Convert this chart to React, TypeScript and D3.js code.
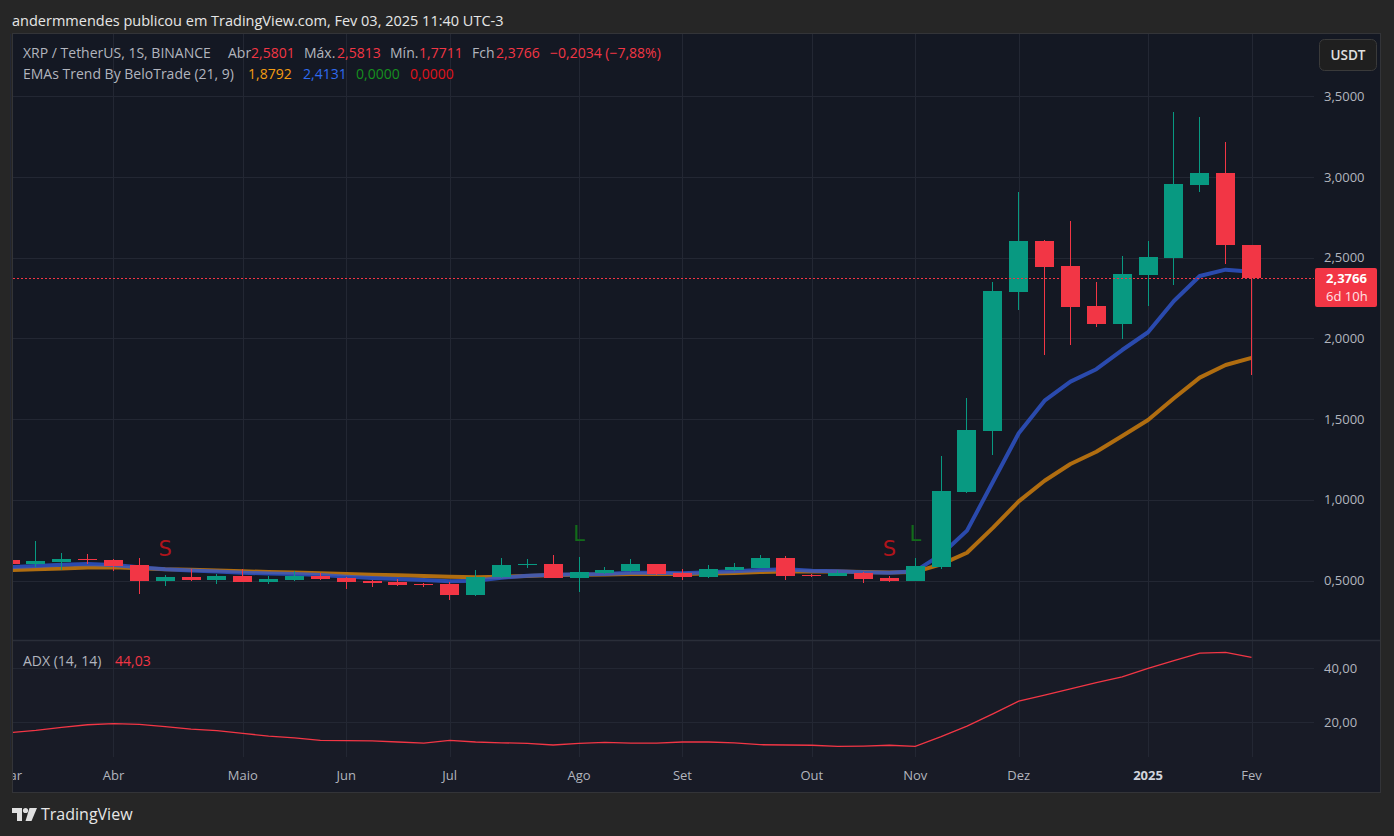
import { useEffect } from "react";
import * as d3 from "d3";

// weekly bars, XRP/USDT (BINANCE), Mar 4 2024 -> Feb 3 2025
const opens = [
  0.627, 0.602, 0.615, 0.633, 0.627, 0.596, 0.497, 0.522, 0.503, 0.528,
  0.491, 0.503, 0.528, 0.515, 0.497, 0.491, 0.478, 0.478, 0.41, 0.522,
  0.6, 0.602, 0.516, 0.547, 0.559, 0.602, 0.546, 0.522, 0.565, 0.577,
  0.64, 0.534, 0.528, 0.546, 0.515, 0.497, 0.584, 1.048, 1.428, 2.288,
  2.604, 2.449, 2.201, 2.089, 2.393, 2.498, 2.95, 3.025, 2.5801,
];
const highs = [
  0.64, 0.745, 0.67, 0.664, 0.633, 0.64, 0.534, 0.571, 0.54, 0.571,
  0.528, 0.559, 0.546, 0.522, 0.503, 0.509, 0.484, 0.49, 0.565, 0.64,
  0.633, 0.658, 0.646, 0.584, 0.633, 0.605, 0.571, 0.596, 0.608, 0.658,
  0.652, 0.54, 0.565, 0.552, 0.528, 0.64, 1.27, 1.63, 2.35, 2.907,
  2.61, 2.727, 2.35, 2.51, 2.604, 3.4, 3.37, 3.217, 2.5813,
];
const lows = [
  0.595, 0.586, 0.565, 0.602, 0.559, 0.416, 0.466, 0.5, 0.478, 0.488,
  0.478, 0.5, 0.506, 0.447, 0.459, 0.466, 0.459, 0.38, 0.404, 0.518,
  0.577, 0.513, 0.429, 0.54, 0.555, 0.535, 0.503, 0.518, 0.559, 0.575,
  0.503, 0.52, 0.525, 0.484, 0.491, 0.494, 0.57, 1.04, 1.28, 2.176,
  1.897, 1.959, 2.07, 1.996, 2.201, 2.33, 2.907, 2.46, 1.7711,
];
const closes = [
  0.602, 0.621, 0.633, 0.628, 0.59, 0.497, 0.522, 0.503, 0.528, 0.491,
  0.509, 0.528, 0.509, 0.491, 0.484, 0.472, 0.473, 0.41, 0.522, 0.596,
  0.603, 0.516, 0.553, 0.565, 0.602, 0.54, 0.522, 0.571, 0.584, 0.64,
  0.528, 0.528, 0.546, 0.509, 0.497, 0.59, 1.054, 1.43, 2.295, 2.604,
  2.443, 2.195, 2.089, 2.4, 2.504, 2.956, 3.025, 2.58, 2.3766,
];
const emaFast = [
  0.582, 0.59, 0.598, 0.602, 0.596, 0.582, 0.569, 0.562, 0.556, 0.548,
  0.543, 0.54, 0.534, 0.524, 0.516, 0.51, 0.503, 0.495, 0.499, 0.517,
  0.53, 0.536, 0.538, 0.54, 0.548, 0.548, 0.545, 0.551, 0.557, 0.565,
  0.569, 0.561, 0.558, 0.551, 0.548, 0.558, 0.66, 0.809, 1.11, 1.412,
  1.614, 1.732, 1.809, 1.928, 2.038, 2.232, 2.387, 2.426, 2.4131,
];
const emaSlow = [
  0.565, 0.57, 0.575, 0.58, 0.582, 0.576, 0.569, 0.566, 0.562, 0.557,
  0.553, 0.55, 0.545, 0.54, 0.536, 0.533, 0.528, 0.524, 0.52, 0.524,
  0.528, 0.534, 0.535, 0.537, 0.54, 0.541, 0.54, 0.543, 0.547, 0.553,
  0.555, 0.555, 0.556, 0.553, 0.55, 0.553, 0.6, 0.672, 0.826, 0.99,
  1.118, 1.222, 1.298, 1.395, 1.494, 1.629, 1.757, 1.835, 1.8792,
];
const adx = [
  16.2, 17.0, 18.1, 19.1, 19.5, 19.2, 18.4, 17.5, 16.9, 15.9,
  14.9, 14.2, 13.3, 13.2, 13.1, 12.7, 12.3, 13.3, 12.7, 12.4,
  12.2, 11.6, 12.2, 12.6, 12.3, 12.3, 12.7, 12.7, 12.4, 11.7,
  11.6, 11.5, 11.1, 11.2, 11.5, 11.1, 14.7, 18.6, 23.1, 27.8,
  30.1, 32.4, 34.7, 36.8, 40.0, 42.8, 45.6, 45.9, 44.03,
];
// signals from the indicator: bar index + letter
const signalBars = [6, 22, 34, 35];
const signalTypes = ["S", "L", "S", "L"];

const monthNames = ["Jan", "Fev", "Mar", "Abr", "Maio", "Jun", "Jul", "Ago", "Set", "Out", "Nov", "Dez"];
const priceTicks = [0.5, 1.0, 1.5, 2.0, 2.5, 3.0, 3.5];
const adxTicks = [20, 40];

const W = 1394;
const H = 836;
const PL = 13; // plot left
const PR = 1314; // plot right
const MAIN_TOP = 34;
const MAIN_BOT = 640;
const ADX_BOT = 757;
const AXIS_BOT = 792;

const GREEN = "#089981";
const RED = "#f23645";
const GRID = "#232733";
const TXT = "#b2b5be";
const FONT = "'Open Sans', Roboto, sans-serif";

const fmt = (v: number, d: number) => v.toFixed(d).replace(".", ",");
const signed = (v: number, d: number) => (v < 0 ? "\u2212" : "+") + fmt(Math.abs(v), d);

export default function App() {
  useEffect(() => {
    document.body.style.margin = "0";
    document.body.style.background = "#262626";
  }, []);

  const weeks = d3.timeMonday.range(new Date(2024, 2, 4), new Date(2025, 1, 4));
  const n = closes.length;

  const x = d3.scaleLinear().domain([0, n - 1]).range([10, 1251.5]);
  const y = d3.scaleLinear().domain([0.5, 3.5]).range([580.5, 96.3]);
  const ya = d3.scaleLinear().domain([20, 40]).range([722.3, 668.3]);
  const bodyW = 19;

  // first bar of every month gets a label, January shows the year
  const monthTicks = weeks
    .map((d, i) => ({ d, i }))
    .filter(({ d, i }) => i === 0 || d.getMonth() !== weeks[i - 1].getMonth())
    .map(({ d, i }) => ({
      i,
      label: d.getMonth() === 0 ? String(d.getFullYear()) : monthNames[d.getMonth()],
      bold: d.getMonth() === 0,
    }));

  const emaLine = d3
    .line<number>()
    .x((_, i) => x(i))
    .y((d) => y(d));
  const adxLine = d3
    .line<number>()
    .x((_, i) => x(i))
    .y((d) => ya(d));

  const last = closes[n - 1];
  const prev = closes[n - 2];
  const lastY = Math.round(y(last)) + 0.5;
  const change = last - prev;

  return (
    <svg width={W} height={H} style={{ display: "block", fontFamily: FONT }}>
      <defs>
        <clipPath id="mainClip">
          <rect x={PL} y={MAIN_TOP} width={PR - PL} height={MAIN_BOT - MAIN_TOP} />
        </clipPath>
        <clipPath id="adxClip">
          <rect x={PL} y={MAIN_BOT + 1} width={PR - PL} height={ADX_BOT - MAIN_BOT - 1} />
        </clipPath>
        <clipPath id="axisClip">
          <rect x={PL} y={ADX_BOT} width={PR - PL} height={AXIS_BOT - ADX_BOT} />
        </clipPath>
      </defs>
      <rect width={W} height={H} fill="#262626" />
      <text x={12} y={25.5} fill="#e6e6e6" fontSize={14.5}>
        andermmendes publicou em TradingView.com, Fev 03, 2025 11:40 UTC-3
      </text>

      {/* chart frame */}
      <rect x={12.5} y={33.5} width={1368} height={759} fill="#141823" stroke="#333438" />
      <rect x={PL} y={MAIN_BOT + 1} width={1367} height={ADX_BOT - MAIN_BOT - 1} fill="#181b26" />
      <rect x={PL} y={ADX_BOT} width={1367} height={AXIS_BOT - ADX_BOT} fill="#181b26" />

      {/* grid */}
      {monthTicks.map((t) => (
        <line key={"vg" + t.i} x1={Math.round(x(t.i)) + 0.5} x2={Math.round(x(t.i)) + 0.5}
          y1={MAIN_TOP} y2={ADX_BOT} stroke={GRID} />
      ))}
      {priceTicks.map((p) => (
        <line key={"hg" + p} x1={PL} x2={PR} y1={Math.round(y(p)) + 0.5} y2={Math.round(y(p)) + 0.5} stroke={GRID} />
      ))}
      {adxTicks.map((v) => (
        <line key={"ag" + v} x1={PL} x2={PR} y1={Math.round(ya(v)) + 0.5} y2={Math.round(ya(v)) + 0.5} stroke={GRID} />
      ))}
      <line x1={PL} x2={1380} y1={MAIN_BOT + 0.5} y2={MAIN_BOT + 0.5} stroke="#2a2e39" strokeWidth={1.5} />

      {/* EMAs, then candles on top */}
      <g clipPath="url(#mainClip)">
        <path d={emaLine(emaSlow) ?? ""} fill="none" stroke="#b06d10" strokeWidth={4} strokeLinejoin="round" />
        <path d={emaLine(emaFast) ?? ""} fill="none" stroke="#2f55cc" strokeOpacity={0.82} strokeWidth={4} strokeLinejoin="round" />
        {closes.map((c, i) => {
          const o = opens[i];
          const col = c >= o ? GREEN : RED;
          const left = Math.round(x(i) - bodyW / 2);
          const top = Math.round(y(Math.max(o, c)));
          const bh = Math.max(1, Math.round(y(Math.min(o, c))) - top);
          const wt = Math.round(y(highs[i]));
          const wb = Math.round(y(lows[i]));
          return (
            <g key={"c" + i}>
              <rect x={left + 9} y={wt} width={1} height={Math.max(1, wb - wt)} fill={col} />
              <rect x={left} y={top} width={bodyW} height={bh} fill={col} />
            </g>
          );
        })}
        {signalBars.map((b, k) => (
          <text key={"s" + k} x={x(b)} y={signalTypes[k] === "S" ? 556 : 541}
            textAnchor="middle" fontSize={21} fontFamily="'DejaVu Sans', sans-serif"
            fill={signalTypes[k] === "S" ? "#b0141b" : "#126b1a"}>
            {signalTypes[k]}
          </text>
        ))}
        <line x1={PL} x2={PR} y1={lastY} y2={lastY} stroke={RED} strokeDasharray="2,2" />
      </g>

      {/* ADX pane */}
      <g clipPath="url(#adxClip)">
        <path d={adxLine(adx) ?? ""} fill="none" stroke="#f23645" strokeWidth={1.3} />
      </g>

      {/* price axis */}
      {priceTicks.map((p) => (
        <text key={"pt" + p} x={1324} y={y(p) + 4.5} fill={TXT} fontSize={13}>
          {fmt(p, 4)}
        </text>
      ))}
      {adxTicks.map((v) => (
        <text key={"at" + v} x={1324} y={ya(v) + 4.5} fill={TXT} fontSize={13}>
          {fmt(v, 2)}
        </text>
      ))}
      <rect x={1315} y={lastY - 10.5} width={62} height={39} rx={2} fill={RED} />
      <text x={1326} y={lastY + 4.5} fill="#ffffff" fontSize={13} fontWeight={700}>{fmt(last, 4)}</text>
      <text x={1326} y={lastY + 22} fill="#ffe3e5" fontSize={13}>6d 10h</text>
      <rect x={1319.5} y={39.5} width={57} height={31} rx={5} fill="#1f1f1f" stroke="#3a3a3a" />
      <text x={1348} y={60} textAnchor="middle" fill="#e0e0e0" fontSize={13.5} fontWeight={600}>USDT</text>

      {/* time axis */}
      <g clipPath="url(#axisClip)">
        {monthTicks.map((t) => (
          <text key={"tl" + t.i} x={x(t.i)} y={779.5} textAnchor="middle" fontSize={13}
            fill={t.bold ? "#d1d4dc" : TXT} fontWeight={t.bold ? 700 : 400}>
            {t.label}
          </text>
        ))}
      </g>

      {/* legends */}
      <g fontSize={14}>
        <text x={23} y={58} fill={TXT}>XRP / TetherUS, 1S, BINANCE</text>
        <text x={228} y={58} fill={TXT}>Abr</text>
        <text x={251} y={58} fill={RED}>{fmt(opens[n - 1], 4)}</text>
        <text x={304} y={58} fill={TXT}>Máx.</text>
        <text x={337} y={58} fill={RED}>{fmt(highs[n - 1], 4)}</text>
        <text x={390} y={58} fill={TXT}>Mín.</text>
        <text x={419} y={58} fill={RED}>{fmt(lows[n - 1], 4)}</text>
        <text x={472} y={58} fill={TXT}>Fch</text>
        <text x={496} y={58} fill={RED}>{fmt(last, 4)}</text>
        <text x={550} y={58} fill={RED}>
          {signed(change, 4) + " (" + signed((change / prev) * 100, 2) + "%)"}
        </text>
        <text x={23} y={79} fill={TXT}>EMAs Trend By BeloTrade (21, 9)</text>
        <text x={248} y={79} fill="#f39c12">{fmt(emaSlow[n - 1], 4)}</text>
        <text x={303} y={79} fill="#2f6bef">{fmt(emaFast[n - 1], 4)}</text>
        <text x={356} y={79} fill="#16901f">{fmt(0, 4)}</text>
        <text x={410} y={79} fill="#e0141c">{fmt(0, 4)}</text>
        <text x={23} y={666} fill={TXT}>ADX (14, 14)</text>
        <text x={115} y={666} fill={RED}>{fmt(adx[n - 1], 2)}</text>
      </g>

      {/* TradingView mark */}
      <g fill="#e0e0e0">
        <rect x={12} y={808} width={10} height={5} />
        <rect x={17} y={808} width={5} height={13} />
        <circle cx={25.5} cy={810.5} r={2.6} />
        <polygon points="29.5,808 37,808 31.5,821 25.5,821" />
        <text x={41} y={820} fontSize={16} fontWeight={500} fill="#e6e6e6">TradingView</text>
      </g>
    </svg>
  );
}
